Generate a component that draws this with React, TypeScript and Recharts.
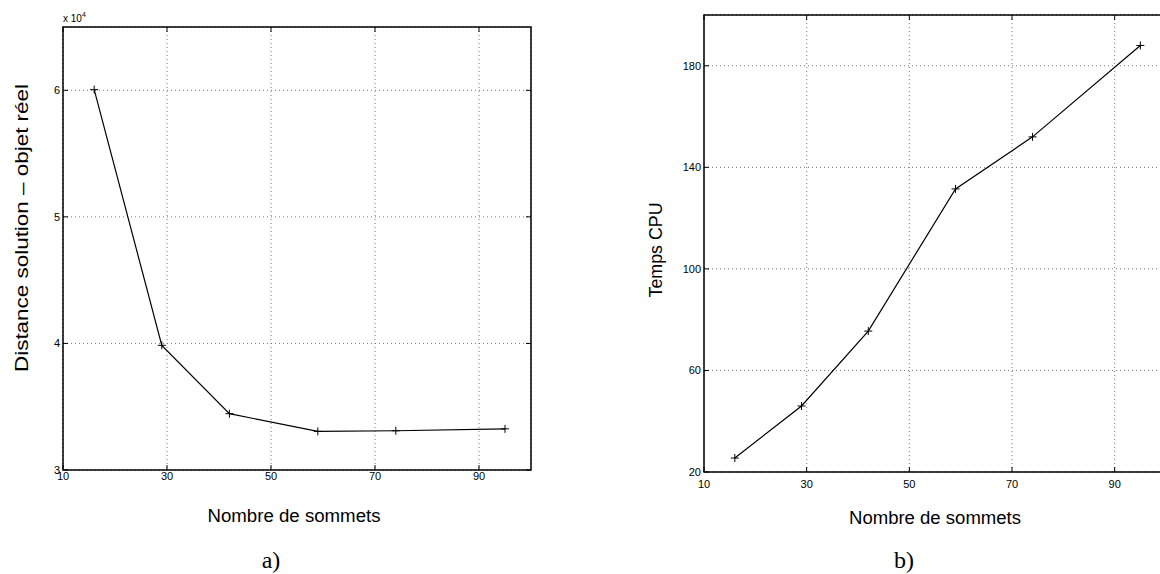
import { LineChart, Line, XAxis, YAxis, CartesianGrid, ReferenceArea } from "recharts";

// nombre de sommets (x) shared by both plots
const sommets = [16, 29, 42, 59, 74, 95];
// a) distance solution - objet réel, in units of 10^4
const distance = [6.005, 3.985, 3.445, 3.305, 3.31, 3.325];
// b) temps CPU
const tempsCpu = [25.5, 46, 75.5, 131.5, 152, 188];

const xTicks = [10, 30, 50, 70, 90];
const distTicks = [3, 4, 5, 6];
const cpuTicks = [20, 60, 100, 140, 180];

const distData = sommets.map((s, i) => ({ sommets: s, value: distance[i] }));
const cpuData = sommets.map((s, i) => ({ sommets: s, value: tempsCpu[i] }));

const SANS = "'Liberation Sans', Arial, Helvetica, sans-serif";
const SERIF = "'Liberation Serif', 'DejaVu Serif', serif";

const PlusDot = (props: any) => {
  const { cx, cy, index } = props;
  if (cx == null || cy == null) return <g key={index} />;
  return (
    <path
      key={index}
      d={`M${cx - 4},${cy}H${cx + 4}M${cx},${cy - 4}V${cy + 4}`}
      stroke="#000"
      strokeWidth={1}
      fill="none"
    />
  );
};

const makeXTick = (plotH: number, gap: number) => (props: any) => {
  const { x, y, payload } = props;
  return (
    <g>
      <line x1={x} y1={y} x2={x} y2={y - 5} stroke="#000" strokeWidth={1} />
      <line x1={x} y1={y - plotH} x2={x} y2={y - plotH + 5} stroke="#000" strokeWidth={1} />
      <text
        x={x}
        y={y + gap}
        textAnchor="middle"
        dominantBaseline="hanging"
        fontFamily={SANS}
        fontSize={11}
        fill="#000"
      >
        {payload.value}
      </text>
    </g>
  );
};

const makeYTick = (plotW: number) => (props: any) => {
  const { x, y, payload } = props;
  return (
    <g>
      <line x1={x} y1={y} x2={x + 5} y2={y} stroke="#000" strokeWidth={1} />
      <line x1={x + plotW} y1={y} x2={x + plotW - 5} y2={y} stroke="#000" strokeWidth={1} />
      <text
        x={x - 3}
        y={y}
        textAnchor="end"
        dominantBaseline="central"
        fontFamily={SANS}
        fontSize={11}
        fill="#000"
      >
        {payload.value}
      </text>
    </g>
  );
};

const leftLabels = () => (
  <g fill="#000">
    <text x={294} y={522} textAnchor="middle" fontFamily={SANS} fontSize={18} textLength={173} lengthAdjust="spacingAndGlyphs">
      Nombre de sommets
    </text>
    <text x={271} y={568} textAnchor="middle" fontFamily={SERIF} fontSize={24}>
      a)
    </text>
    <text
      x={0}
      y={0}
      transform="translate(22,228) rotate(-90)"
      textAnchor="middle"
      dominantBaseline="central"
      fontFamily={SANS}
      fontSize={18}
      textLength={288}
      lengthAdjust="spacingAndGlyphs"
    >
      Distance solution – objet réel
    </text>
    <text x={63} y={22} fontFamily={SANS} fontSize={10}>
      x 10
      <tspan dy={-5} fontSize={7}>
        4
      </tspan>
    </text>
  </g>
);

const rightLabels = () => (
  <g fill="#000">
    <text x={295} y={524} textAnchor="middle" fontFamily={SANS} fontSize={18} textLength={172} lengthAdjust="spacingAndGlyphs">
      Nombre de sommets
    </text>
    <text x={264} y={568} textAnchor="middle" fontFamily={SERIF} fontSize={24}>
      b)
    </text>
    <text
      x={0}
      y={0}
      transform="translate(16,250) rotate(-90)"
      textAnchor="middle"
      dominantBaseline="central"
      fontFamily={SANS}
      fontSize={18}
      textLength={95}
      lengthAdjust="spacingAndGlyphs"
    >
      Temps CPU
    </text>
  </g>
);

export default function App() {
  return (
    <div
      style={{
        position: "fixed",
        left: 0,
        top: 0,
        width: 1160,
        height: 574,
        overflow: "hidden",
        background: "#fff",
      }}
    >
      <div style={{ position: "absolute", left: 0, top: 0 }}>
        <LineChart width={560} height={574} data={distData} margin={{ top: 27, right: 29, left: 0, bottom: 0 }}>
          <CartesianGrid stroke="#777" strokeDasharray="1 3" />
          <XAxis
            dataKey="sommets"
            type="number"
            domain={[10, 100]}
            ticks={xTicks}
            interval={0}
            height={104}
            tickSize={0}
            tickMargin={0}
            tickLine={false}
            axisLine={false}
            tick={makeXTick(443, 2)}
            label={leftLabels}
          />
          <YAxis
            type="number"
            domain={[3, 6.5]}
            ticks={distTicks}
            interval={0}
            width={63}
            tickSize={0}
            tickMargin={0}
            tickLine={false}
            axisLine={false}
            tick={makeYTick(468)}
          />
          <ReferenceArea x1={10} x2={100} y1={3} y2={6.5} fill="none" stroke="#000" strokeWidth={1.5} />
          <Line
            type="linear"
            dataKey="value"
            stroke="#000"
            strokeWidth={1.2}
            dot={PlusDot}
            activeDot={false}
            isAnimationActive={false}
          />
        </LineChart>
      </div>
      <div style={{ position: "absolute", left: 640, top: 0 }}>
        <LineChart width={560} height={574} data={cpuData} margin={{ top: 15, right: 34, left: 0, bottom: 0 }}>
          <CartesianGrid stroke="#777" strokeDasharray="1 3" />
          <XAxis
            dataKey="sommets"
            type="number"
            domain={[10, 100]}
            ticks={xTicks}
            interval={0}
            height={102}
            tickSize={0}
            tickMargin={0}
            tickLine={false}
            axisLine={false}
            tick={makeXTick(457, 8)}
            label={rightLabels}
          />
          <YAxis
            type="number"
            domain={[20, 200]}
            ticks={cpuTicks}
            interval={0}
            width={64}
            tickSize={0}
            tickMargin={0}
            tickLine={false}
            axisLine={false}
            tick={makeYTick(462)}
          />
          <ReferenceArea x1={10} x2={100} y1={20} y2={200} fill="none" stroke="#000" strokeWidth={1.5} />
          <Line
            type="linear"
            dataKey="value"
            stroke="#000"
            strokeWidth={1.2}
            dot={PlusDot}
            activeDot={false}
            isAnimationActive={false}
          />
        </LineChart>
      </div>
    </div>
  );
}
